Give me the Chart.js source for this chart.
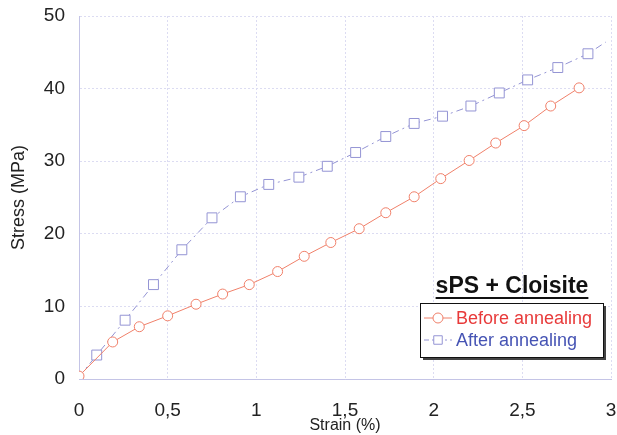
<!DOCTYPE html>
<html>
<head>
<meta charset="utf-8">
<script src="https://cdn.jsdelivr.net/npm/chart.js@4.4.0/dist/chart.umd.min.js"></script>
<style>
  html, body { margin: 0; padding: 0; background: #fff; }
  #wrap { width: 617px; height: 435px; }
</style>
</head>
<body>
<div id="wrap"><canvas id="grafico"></canvas></div>
<script>
// valores
const strainBefore = [0, 0.19, 0.34, 0.5, 0.66, 0.81, 0.96, 1.12, 1.27, 1.42, 1.58, 1.73, 1.89, 2.04, 2.2, 2.35, 2.51, 2.66, 2.82]
const stressBefore = [0.4, 5.1, 7.2, 8.7, 10.3, 11.7, 13.0, 14.8, 16.9, 18.8, 20.7, 22.9, 25.1, 27.6, 30.1, 32.5, 34.9, 37.6, 40.1]
const strainAfter = [0, 0.1, 0.26, 0.42, 0.58, 0.75, 0.91, 1.07, 1.24, 1.40, 1.56, 1.73, 1.89, 2.05, 2.21, 2.37, 2.53, 2.70, 2.87, 2.97]
const stressAfter = [0.3, 3.3, 8.1, 13.0, 17.8, 22.2, 25.1, 26.8, 27.8, 29.3, 31.2, 33.4, 35.2, 36.2, 37.6, 39.4, 41.2, 42.9, 44.8, 46.4]
const xTicks = [0, 0.5, 1, 1.5, 2, 2.5, 3]
const yTicks = [0, 10, 20, 30, 40, 50]
const legendTitle = 'sPS + Cloisite'
const labelBefore = 'Before annealing'
const labelAfter = 'After annealing'

const colorBefore = '#f0806a'
const colorAfter = '#9494d4'
const gridColor = '#dcdcf2'

const puntosBefore = strainBefore.map((x, i) => ({ x: x, y: stressBefore[i] }))
const puntosAfter = strainAfter.map((x, i) => ({ x: x, y: stressAfter[i] }))
const radioAfter = strainAfter.map((x, i) => (i === 0 || i === strainAfter.length - 1) ? 0 : 7)

const leyenda = {
    id: 'leyenda',
    afterDatasetsDraw(chart) {
        const ctx = chart.ctx
        ctx.save()
        // titulo subrayado
        ctx.font = 'bold 23px "Liberation Sans", Arial, sans-serif'
        ctx.fillStyle = '#111'
        ctx.textAlign = 'center'
        ctx.textBaseline = 'middle'
        const tx = 512, ty = 287
        ctx.fillText(legendTitle, tx, ty)
        const w = ctx.measureText(legendTitle).width
        ctx.fillRect(tx - w / 2, ty + 10, w, 2)

        // caja
        const bx = 420, by = 303, bw = 183, bh = 54
        ctx.fillStyle = '#444'
        ctx.fillRect(bx + 3, by + 3, bw, bh)
        ctx.fillStyle = '#fff'
        ctx.fillRect(bx, by, bw, bh)
        ctx.strokeStyle = '#111'
        ctx.lineWidth = 1
        ctx.strokeRect(bx + 0.5, by + 0.5, bw, bh)

        const filas = [
            { y: 318, color: colorBefore, text: labelBefore, textColor: '#e83a3a', style: 'circle', r: 5, dash: [] },
            { y: 340, color: colorAfter, text: labelAfter, textColor: '#4654b4', style: 'rect', r: 6, dash: [5, 3, 2, 3] }
        ]
        filas.forEach((f) => {
            ctx.strokeStyle = f.color
            ctx.lineWidth = 1
            ctx.setLineDash(f.dash)
            ctx.beginPath()
            ctx.moveTo(424, f.y)
            ctx.lineTo(452, f.y)
            ctx.stroke()
            ctx.setLineDash([])
            ctx.fillStyle = '#fff'
            Chart.helpers.drawPoint(ctx, { pointStyle: f.style, radius: f.r, rotation: 0, borderWidth: 1 }, 438, f.y)
            ctx.font = '18px "Liberation Sans", Arial, sans-serif'
            ctx.fillStyle = f.textColor
            ctx.textAlign = 'left'
            ctx.fillText(f.text, 456, f.y + 1)
        })
        ctx.restore()
    }
}

const datasets = [
    {
        label: labelBefore,
        data: puntosBefore,
        borderColor: colorBefore,
        backgroundColor: '#fff',
        borderWidth: 1,
        pointStyle: 'circle',
        pointRadius: 5,
        pointBorderWidth: 1,
        pointBackgroundColor: '#fff',
        pointBorderColor: colorBefore
    },
    {
        label: labelAfter,
        data: puntosAfter,
        borderColor: colorAfter,
        backgroundColor: '#fff',
        borderWidth: 1,
        borderDash: [7, 4, 2, 4],
        pointStyle: 'rect',
        pointRadius: radioAfter,
        pointBorderWidth: 1,
        pointBackgroundColor: '#fff',
        pointBorderColor: colorAfter
    }
]

const config = {
    type: 'line',
    data: { datasets },
    plugins: [leyenda],
    options: {
        responsive: true,
        maintainAspectRatio: false,
        animation: false,
        layout: { padding: { top: 16, right: 4, left: 0, bottom: 0 } },
        plugins: { legend: { display: false }, tooltip: { enabled: false } },
        scales: {
            x: {
                type: 'linear',
                min: 0,
                max: 3,
                afterBuildTicks: (s) => { s.ticks = xTicks.map((v) => ({ value: v })) },
                afterFit: (s) => { s.height = 56; s.paddingLeft = 0; s.paddingRight = 0 },
                grid: { color: gridColor, drawTicks: false },
                border: { color: '#c4c4e6', dash: [2, 2] },
                ticks: {
                    padding: 20,
                    color: '#222',
                    font: { size: 19, family: '"Liberation Sans", Arial, sans-serif' },
                    callback: (v) => String(v).replace('.', ',')
                },
                title: {
                    display: true,
                    text: 'Strain (%)',
                    color: '#222',
                    font: { size: 16, family: '"Liberation Sans", Arial, sans-serif' },
                    padding: 0
                }
            },
            y: {
                min: 0,
                max: 50,
                afterBuildTicks: (s) => { s.ticks = yTicks.map((v) => ({ value: v })) },
                afterFit: (s) => { s.width = 79; s.paddingTop = 0; s.paddingBottom = 0 },
                grid: { color: gridColor, drawTicks: false },
                border: { color: '#c4c4e6', dash: [2, 2] },
                ticks: {
                    padding: 14,
                    color: '#222',
                    font: { size: 19, family: '"Liberation Sans", Arial, sans-serif' }
                },
                title: {
                    display: true,
                    text: 'Stress (MPa)',
                    color: '#222',
                    font: { size: 18, family: '"Liberation Sans", Arial, sans-serif' },
                    padding: { top: 8, bottom: 0 }
                }
            }
        }
    }
}

new Chart(document.querySelector('#grafico'), config)
</script>
</body>
</html>
